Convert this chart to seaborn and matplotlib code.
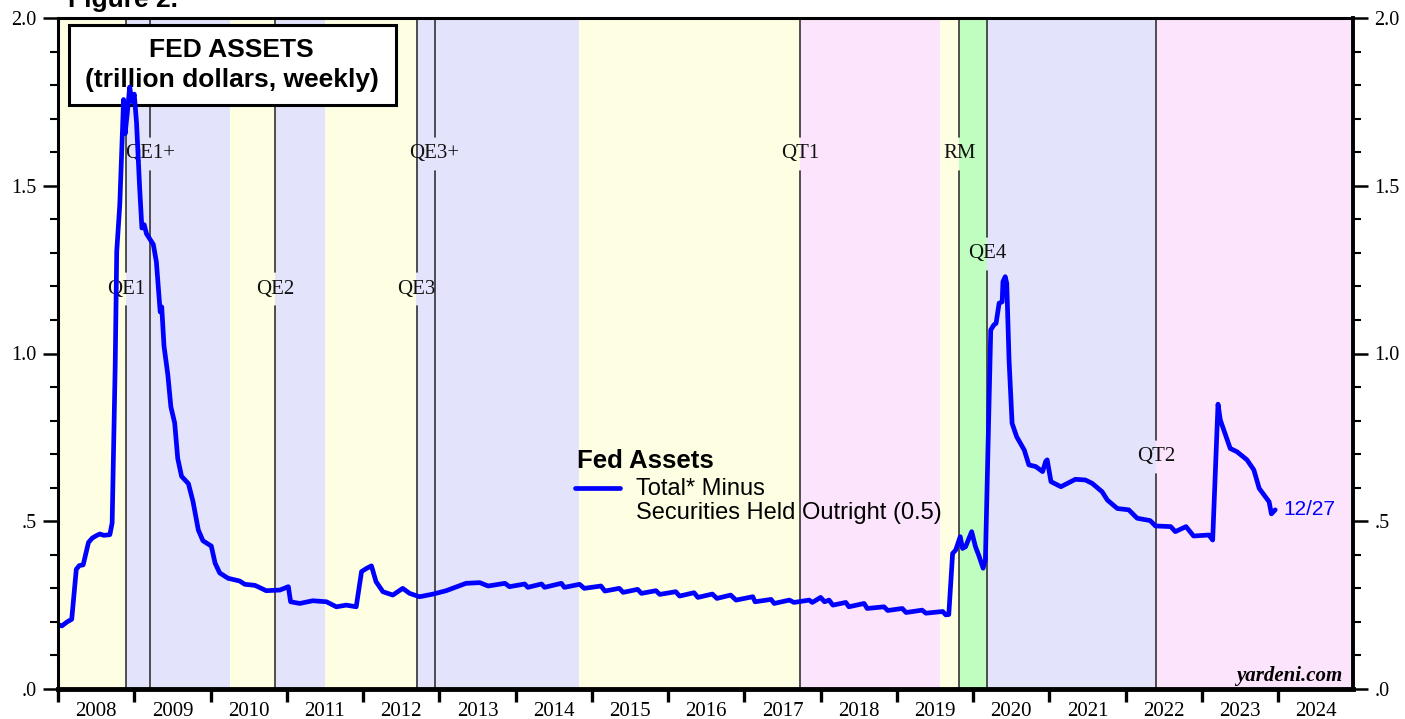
import matplotlib
matplotlib.use("Agg")
import matplotlib.pyplot as plt
import seaborn as sns
import pandas as pd
from matplotlib.patches import Rectangle

# ---------------- data (decimal year, trillion dollars) ----------------
years = [
    2008.00, 2008.05, 2008.12, 2008.18, 2008.24, 2008.28, 2008.33, 2008.40, 2008.45, 2008.51,
    2008.55, 2008.60, 2008.68, 2008.71, 2008.75, 2008.77, 2008.81, 2008.86, 2008.88, 2008.91,
    2008.94, 2008.97, 2009.00, 2009.03, 2009.07, 2009.10, 2009.13, 2009.16, 2009.25, 2009.29,
    2009.34, 2009.36, 2009.39, 2009.44, 2009.48, 2009.53, 2009.57, 2009.62, 2009.71, 2009.77,
    2009.84, 2009.90, 2010.01, 2010.06, 2010.12, 2010.23, 2010.38, 2010.45, 2010.58, 2010.62,
    2010.73, 2010.91, 2011.02, 2011.05, 2011.17, 2011.34, 2011.52, 2011.65, 2011.78, 2011.91,
    2011.98, 2012.05, 2012.11, 2012.17, 2012.26, 2012.39, 2012.52, 2012.61, 2012.74, 2012.92,
    2013.09, 2013.35, 2013.53, 2013.64, 2013.86, 2013.92, 2014.12, 2014.16, 2014.34, 2014.38,
    2014.60, 2014.64, 2014.84, 2014.90, 2015.12, 2015.17, 2015.36, 2015.41, 2015.60, 2015.65,
    2015.84, 2015.89, 2016.10, 2016.15, 2016.34, 2016.39, 2016.58, 2016.64, 2016.82, 2016.89,
    2017.11, 2017.14, 2017.35, 2017.39, 2017.59, 2017.65, 2017.85, 2017.89, 2018.00, 2018.05,
    2018.11, 2018.16, 2018.33, 2018.37, 2018.57, 2018.61, 2018.83, 2018.88, 2019.07, 2019.12,
    2019.33, 2019.38, 2019.60, 2019.64, 2019.68, 2019.73, 2019.77, 2019.83, 2019.86, 2019.90,
    2019.98, 2020.03, 2020.08, 2020.13, 2020.16, 2020.23, 2020.27, 2020.30, 2020.34, 2020.38,
    2020.39, 2020.42, 2020.44, 2020.47, 2020.51, 2020.57, 2020.67, 2020.73, 2020.82, 2020.91,
    2020.95, 2020.97, 2021.02, 2021.15, 2021.34, 2021.47, 2021.56, 2021.69, 2021.76, 2021.89,
    2022.04, 2022.15, 2022.32, 2022.39, 2022.59, 2022.65, 2022.79, 2022.89, 2023.09, 2023.14,
    2023.21, 2023.24, 2023.37, 2023.46, 2023.59, 2023.68, 2023.75, 2023.88, 2023.91, 2023.96,
]
assets = [
    0.192, 0.188, 0.200, 0.208, 0.357, 0.368, 0.370, 0.437, 0.450, 0.458,
    0.462, 0.458, 0.460, 0.495, 0.964, 1.304, 1.443, 1.757, 1.655, 1.720,
    1.794, 1.751, 1.773, 1.687, 1.496, 1.374, 1.384, 1.357, 1.325, 1.273,
    1.124, 1.139, 1.022, 0.937, 0.841, 0.793, 0.687, 0.634, 0.612, 0.559,
    0.474, 0.442, 0.426, 0.375, 0.346, 0.330, 0.322, 0.312, 0.309, 0.305,
    0.293, 0.295, 0.305, 0.260, 0.255, 0.263, 0.260, 0.245, 0.250, 0.245,
    0.350, 0.360, 0.367, 0.320, 0.290, 0.280, 0.300, 0.285, 0.275, 0.283,
    0.293, 0.315, 0.317, 0.307, 0.315, 0.305, 0.313, 0.303, 0.313, 0.303,
    0.315, 0.303, 0.312, 0.300, 0.307, 0.292, 0.300, 0.288, 0.297, 0.285,
    0.293, 0.282, 0.290, 0.277, 0.287, 0.273, 0.283, 0.270, 0.280, 0.265,
    0.275, 0.260, 0.267, 0.255, 0.265, 0.258, 0.265, 0.258, 0.273, 0.260,
    0.265, 0.250, 0.258, 0.245, 0.255, 0.240, 0.245, 0.234, 0.240, 0.228,
    0.235, 0.226, 0.231, 0.221, 0.222, 0.404, 0.414, 0.454, 0.419, 0.424,
    0.469, 0.424, 0.394, 0.360, 0.385, 1.070, 1.085, 1.090, 1.150, 1.154,
    1.214, 1.229, 1.209, 0.981, 0.792, 0.752, 0.712, 0.668, 0.663, 0.648,
    0.678, 0.683, 0.618, 0.603, 0.625, 0.623, 0.613, 0.588, 0.563, 0.538,
    0.534, 0.509, 0.502, 0.486, 0.484, 0.469, 0.484, 0.456, 0.459, 0.444,
    0.849, 0.802, 0.717, 0.707, 0.683, 0.653, 0.598, 0.558, 0.522, 0.534,
]

# policy regimes (shaded bands)
band_starts = [2008.00, 2008.89, 2010.25, 2010.84, 2011.50, 2012.70, 2014.83, 2017.73, 2019.57, 2019.82, 2020.18, 2022.40]
band_ends   = [2008.89, 2010.25, 2010.84, 2011.50, 2012.70, 2014.83, 2017.73, 2019.57, 2019.82, 2020.18, 2022.40, 2024.98]
band_kinds  = ["ease_end", "qe", "ease_end", "qe", "ease_end", "qe", "ease_end", "qt", "ease_end", "rm", "qe", "qt"]

# event markers
event_names = ["QE1", "QE1+", "QE2", "QE3", "QE3+", "QT1", "RM", "QE4", "QT2"]
event_years = [2008.89, 2009.205, 2010.843, 2012.703, 2012.938, 2017.733, 2019.816, 2020.182, 2022.396]
event_label_levels = [1.192, 1.595, 1.192, 1.192, 1.595, 1.595, 1.595, 1.297, 0.692]

year_labels = [str(y) for y in range(2008, 2025)]
y_ticks = [0.0, 0.5, 1.0, 1.5, 2.0]
y_tick_labels = [".0", ".5", "1.0", "1.5", "2.0"]

# ---------------- styling ----------------
sns.set_style("white")
plt.rcParams["font.family"] = ["Liberation Sans", "DejaVu Sans"]
plt.rcParams["text.color"] = "black"
plt.rcParams["xtick.color"] = "black"
plt.rcParams["ytick.color"] = "black"
plt.rcParams["axes.labelcolor"] = "black"

band_colors = {"ease_end": "#FEFEE2", "qe": "#E3E3FC", "qt": "#FDE4FD", "rm": "#C0FEC0"}
SERIF = ["Liberation Serif", "DejaVu Serif"]

fig = plt.figure(figsize=(14.05, 7.19), dpi=100)
ax = fig.add_axes([58 / 1405, 30 / 719, 1295 / 1405, 671 / 719])

for s, e, k in zip(band_starts, band_ends, band_kinds):
    ax.axvspan(s, e, color=band_colors[k], lw=0, zorder=0)

gap = 0.05
for name, x, lev in zip(event_names, event_years, event_label_levels):
    ax.plot([x, x], [0, lev - gap], color="#333333", lw=1.2, zorder=1)
    ax.plot([x, x], [lev + gap, 2.0], color="#333333", lw=1.2, zorder=1)
    ax.text(x, lev, name, ha="center", va="center", fontsize=15, family=SERIF,
            color="#111111", zorder=2)

# title box (below the data line, as in the reference)
ax.add_patch(Rectangle((0.0085, 0.870), 0.2525, 0.1196, transform=ax.transAxes,
                       facecolor="white", edgecolor="black", lw=2.2, zorder=3))
ax.text(0.134, 0.952, "FED ASSETS", transform=ax.transAxes, ha="center", va="center",
        fontsize=19, fontweight="bold", color="black", zorder=3.5)
ax.text(0.134, 0.907, "(trillion dollars, weekly)", transform=ax.transAxes, ha="center",
        va="center", fontsize=19, fontweight="bold", color="black", zorder=3.5)

df = pd.DataFrame({"year": years, "assets": assets})
sns.lineplot(data=df, x="year", y="assets", color="#0000FF", lw=3.4,
             sort=False, estimator=None, ax=ax, zorder=4)

ax.annotate("12/27", xy=(years[-1], assets[-1]), xytext=(6, 0), textcoords="offset points",
            va="center", ha="left", fontsize=15, color="#0000FF")

ax.set_xlim(2008.0, 2024.98)
ax.set_ylim(0, 2.0)
ax.set_xlabel("")
ax.set_ylabel("")

# x axis: ticks at year boundaries, labels mid-year
ax.set_xticks(list(range(2008, 2025)))
ax.set_xticklabels([])
ax.set_xticks([y + 0.5 for y in range(2008, 2025)], minor=True)
ax.set_xticklabels(year_labels, minor=True, fontsize=15, family=SERIF)
ax.tick_params(axis="x", which="major", direction="out", length=9, width=2.4, bottom=True)
ax.tick_params(axis="x", which="minor", length=0, pad=9)

# y axis: both sides
ax.set_yticks(y_ticks)
ax.set_yticklabels(y_tick_labels, fontsize=14.5, family=SERIF)
ax.set_yticks([i / 10 for i in range(21)], minor=True)
ax.tick_params(axis="y", which="major", direction="out", length=10.5, width=1.8,
               left=True, right=True, labelleft=True, labelright=True, pad=5)
ax.tick_params(axis="y", which="minor", direction="out", length=5.5, width=1.5,
               left=True, right=True)
for lab in ax.get_yticklabels():
    lab.set_fontfamily(SERIF)
    lab.set_fontsize(14.5)

for side, w in {"left": 2.2, "right": 2.8, "top": 2.2, "bottom": 3.5}.items():
    ax.spines[side].set_visible(True)
    ax.spines[side].set_linewidth(w)
    ax.spines[side].set_color("black")
    ax.spines[side].set_zorder(6)

# legend (manual, as in reference)
ax.text(0.401, 0.340, "Fed Assets", transform=ax.transAxes, ha="left", va="center",
        fontsize=18.5, fontweight="bold", color="black", zorder=8)
ax.plot([0.399, 0.434], [0.2996, 0.2996], transform=ax.transAxes, color="#0000FF",
        lw=3.4, zorder=8)
ax.text(0.446, 0.298, "Total* Minus", transform=ax.transAxes, ha="left", va="center",
        fontsize=17, color="black", zorder=8)
ax.text(0.446, 0.262, "Securities Held Outright (0.5)", transform=ax.transAxes, ha="left",
        va="center", fontsize=17, color="black", zorder=8)

ax.text(0.9915, 0.019, "yardeni.com", transform=ax.transAxes, ha="right", va="center",
        fontsize=15, fontweight="bold", fontstyle="italic", family=SERIF, color="black", zorder=8)

fig.text(68 / 1405, 1 - 7 / 719, "Figure 2.", ha="left", va="baseline",
         fontsize=19, fontweight="bold", color="black")

fig.savefig("out.png", dpi=100, facecolor="white")
